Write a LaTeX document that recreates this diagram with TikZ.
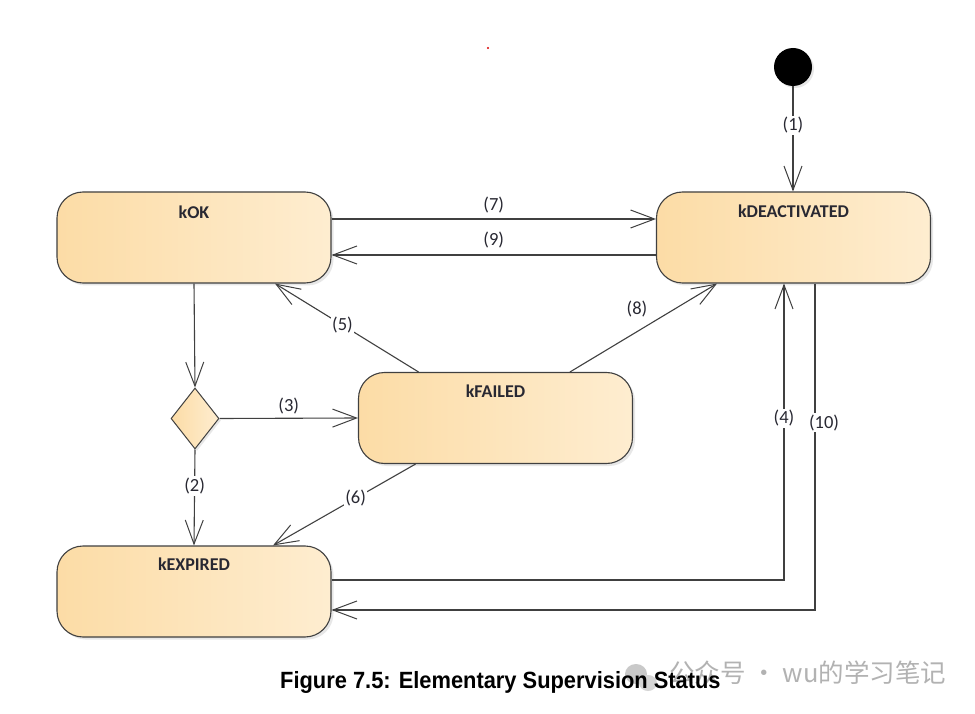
\documentclass[tikz,border=0pt]{standalone}
\usepackage{fontspec}
\setmainfont{Carlito}
\newfontfamily\capfont{Liberation Sans}
\newfontfamily\cjkfont{Noto Sans CJK SC}
\usetikzlibrary{arrows.meta,shapes.geometric,shadows,calc}
\definecolor{boxL}{RGB}{252,220,166}
\definecolor{boxR}{RGB}{254,237,208}
\definecolor{edge}{RGB}{64,64,64}
\definecolor{lbl}{RGB}{40,40,50}
\definecolor{wm}{RGB}{178,178,178}
\begin{document}
\begin{tikzpicture}[x=1pt,y=-1pt,
  statebox/.style={rectangle,rounded corners=26pt,minimum width=274pt,minimum height=91pt,
    draw=edge,line width=1.1pt,left color=boxL,right color=boxR,
    drop shadow={shadow xshift=2.5pt,shadow yshift=-2.5pt,fill=black!18}},
  title/.style={font=\bfseries\fontsize{18}{20}\selectfont,text=lbl,inner sep=0pt},
  conn/.style={draw=edge,line width=1.1pt,-{Straight Barb[length=24pt,width=18pt,line width=1pt]}},
  lab/.style={font=\fontsize{18.5}{20}\selectfont,text=lbl,fill=white,inner sep=1.5pt},
  flab/.style={font=\fontsize{18.5}{20}\selectfont,text=lbl,inner sep=1pt}]
\useasboundingbox (0,0) rectangle (975,714);
\fill[white] (0,0) rectangle (975,714);
% red dot
\fill[red!85!black] (488,48) circle (1.2pt);
% states
\node[statebox] (kok) at (194,237.5) {};
\node[statebox] (kdeact) at (793.5,237.5) {};
\node[statebox] (kfailed) at (495.5,418) {};
\node[statebox] (kexp) at (194,591.5) {};
\node[title] (tok) at (194,212) {kOK};
\node[title] (tdeact) at (793.5,211) {kDEACTIVATED};
\node[title] (tfailed) at (495.5,391) {kFAILED};
\node[title] (texp) at (194,564) {kEXPIRED};
% initial
\node[circle,fill=black,minimum size=38pt,inner sep=0pt,
  drop shadow={shadow xshift=2pt,shadow yshift=-2pt,fill=black!18}] (init) at (793,67) {};
% decision
\node[diamond,aspect=0.8,minimum width=48pt,minimum height=61pt,inner sep=0pt,
  draw=edge,line width=1pt,left color=boxL,right color=boxR,
  drop shadow={shadow xshift=2pt,shadow yshift=-2pt,fill=black!18}] (dec) at (195,418.5) {};
% connectors
\draw[conn] (init) -- node[lab,pos=0.37] (l1) {(1)} ([xshift=-0.5pt]kdeact.north);
\draw[conn] (kok.south) -- (dec.north);
\draw[conn] (dec.south) -- node[lab,pos=0.38] (l2) {(2)} (kexp.north);
\draw[conn] (dec.east) -- node[flab,yshift=12pt] (l3) {(3)} (kfailed.west);
\draw[conn] ([yshift=18.5pt]kok.east) -- node[flab,yshift=14pt] (l7) {(7)} ([yshift=18.5pt]kdeact.west);
\draw[conn] ([yshift=-17.5pt]kdeact.west) -- node[flab,yshift=15pt] (l9) {(9)} ([yshift=-17.5pt]kok.east);
\draw[conn] ([xshift=-77pt]kfailed.north) -- node[lab,pos=0.53] (l5) {(5)} ([xshift=81pt]kok.south);
\draw[conn] ([xshift=74.5pt]kfailed.north) -- node[flab,pos=0.456,yshift=23pt] (l8) {(8)} ([xshift=-76.5pt]kdeact.south);
\draw[conn] ([xshift=-80pt]kfailed.south) -- node[lab,pos=0.42] (l6) {(6)} ([xshift=79pt]kexp.north);
\draw[conn] ([yshift=11.5pt]kexp.east) -| node[lab,pos=0.773] (l4) {(4)} ([xshift=-9.5pt]kdeact.south);
\draw[conn] ([xshift=21.5pt]kdeact.south) |- node[lab,pos=0.213,xshift=9pt] (l10) {(10)} ([yshift=-18.5pt]kexp.east);
% watermark
\fill[wm!70] (636,674) ellipse (11pt and 10pt);
\fill[wm!55] (648,683) ellipse (9pt and 8pt);
\node[font=\cjkfont\fontsize{25.5}{28}\selectfont,text=wm,anchor=west,inner sep=0pt] (wmk) at (669,673) {公众号 · wu的学习笔记};
% caption
\node[font=\capfont\bfseries\fontsize{23.5}{26}\selectfont,inner sep=0pt,anchor=base west,xscale=0.93,transform shape] (cap) at (280,688) {Figure 7.5: Elementary Supervision Status};
\end{tikzpicture}
\end{document}
